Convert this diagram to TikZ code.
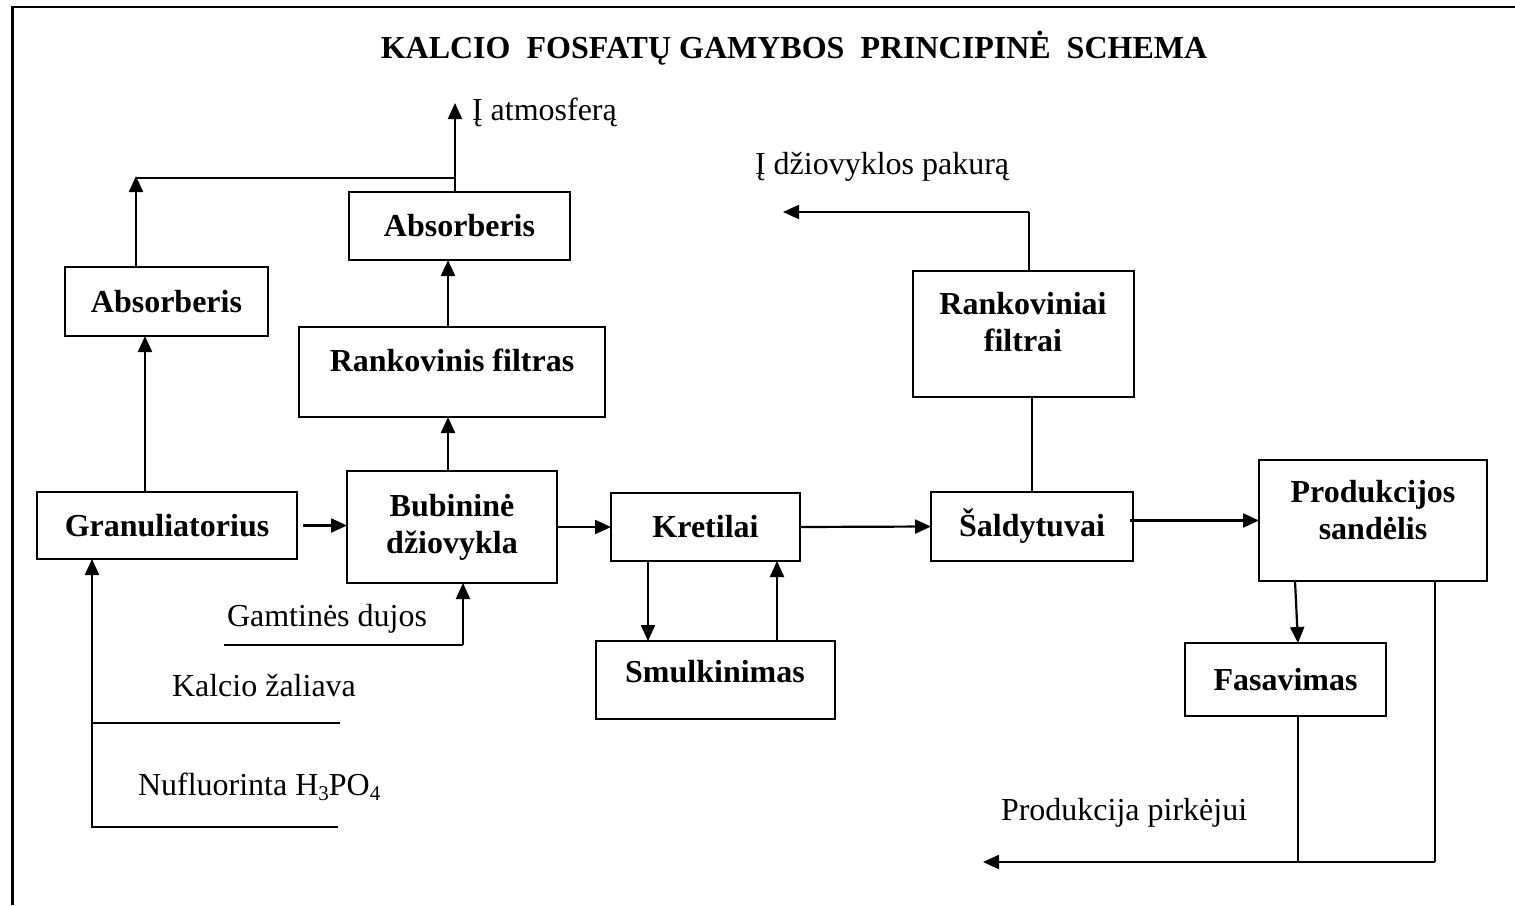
\documentclass[tikz,border=0pt]{standalone}
\usepackage{fontspec}
\setmainfont{Liberation Serif}
\usetikzlibrary{arrows.meta}

\newcommand{\chemsub}[1]{\raisebox{-2.2pt}{\fontsize{10.5pt}{10.5pt}\selectfont #1}}

\begin{document}
\begin{tikzpicture}[x=0.5pt,y=-0.5pt,
  every node/.style={inner sep=0pt, outer sep=0pt},
  txt/.style={font=\fontsize{16pt}{18.5pt}\selectfont},
  boldtxt/.style={font=\fontsize{16pt}{18.5pt}\selectfont\bfseries, align=center},
  box/.style={draw, line width=1.1pt, rectangle, boldtxt},
  flow/.style={line width=1.1pt, -{Triangle[length=8pt,width=7pt]}},
  pipe/.style={line width=1.1pt},
  thinpipe/.style={line width=0.75pt}]

\useasboundingbox (0,0) rectangle (1515,905);

% frame
\draw[line width=1.3pt] (12.5,905) -- (12.5,7) -- (1515,7);

% title
\node[boldtxt] (title) at (794,48) {KALCIO\ \ FOSFATŲ GAMYBOS\ \ PRINCIPINĖ\ \ SCHEMA};

% process blocks
\node[box, minimum width=101.5pt, minimum height=34.5pt] (leftAbs) at (166.5,301.5) {Absorberis};
\node[box, minimum width=110.5pt, minimum height=34pt] (topAbs) at (459.5,226) {Absorberis};
\node[box, minimum width=153pt, minimum height=45pt] (rfilt) at (452,372) {};
\node[boldtxt] (rfiltT) at (452,360) {Rankovinis filtras};
\node[box, minimum width=130pt, minimum height=33.5pt] (gran) at (167,525.5) {Granuliatorius};
\node[box, minimum width=105pt, minimum height=56pt] (bub) at (452,527) {Bubininė\\džiovykla};
\node[box, minimum width=94.5pt, minimum height=34pt] (kret) at (705.5,527) {Kretilai};
\node[box, minimum width=119.5pt, minimum height=39pt] (smul) at (715.5,680) {};
\node[boldtxt] (smulT) at (715,672) {Smulkinimas};
\node[box, minimum width=110.5pt, minimum height=63pt] (rfilt2) at (1023.5,334) {};
\node[boldtxt] (rfilt2T) at (1023,322) {Rankoviniai\\filtrai};
\node[box, minimum width=101pt, minimum height=34.5pt] (sald) at (1032,526.5) {Šaldytuvai};
\node[box, minimum width=114pt, minimum height=60.5pt] (prod) at (1373,520.5) {};
\node[boldtxt] (prodT) at (1373,510) {Produkcijos\\sandėlis};
\node[box, minimum width=100.5pt, minimum height=36.5pt] (fas) at (1285.5,679.5) {Fasavimas};

% free ends and bends
\coordinate (atm) at (455,103);
\coordinate (j1) at (455,178);
\coordinate (j0) at (136,176);
\coordinate (pakK) at (1029,212);
\coordinate (pak) at (783,212);
\coordinate (gd0) at (224,645);
\coordinate (gd1) at (463,645);
\coordinate (kz) at (340,723);
\coordinate (nf) at (338,827);
\coordinate (nfc) at (92,827);
\coordinate (pk1) at (1435,862);
\coordinate (pk) at (983,862);

% labels
\node[txt, anchor=west] (atmL) at (472,112) {Į atmosferą};
\node[txt, anchor=west] (pakL) at (755,167) {Į džiovyklos pakurą};
\node[txt, anchor=west] (gdL) at (227,619) {Gamtinės dujos};
\node[txt, anchor=west] (kzL) at (172,686) {Kalcio žaliava};
\node[txt, anchor=west] (nfL) at (138,787) {Nufluorinta H\chemsub{3}PO\chemsub{4}};
\node[txt, anchor=west] (pkL) at (1001,813) {Produkcija pirkėjui};

% main line
\draw[flow] ([xshift=3pt]gran.east) -- (gran.east -| bub.west);
\draw[flow] (bub.east) -- (kret.west);
\draw[flow] (kret.east) -- (sald.west);
\draw[flow] ([xshift=-1.5pt]sald.east |- prod.west) -- (prod.west);

% gas cleaning
\draw[flow] ([xshift=-11pt]gran.north) -- ([xshift=-11pt]gran.north |- leftAbs.south);
\draw[flow] ([xshift=-15.25pt]leftAbs.north) -- (j0);
\draw[thinpipe] (j0 |- j1) -- (j1);
\draw[flow] ([xshift=-2pt]bub.north) -- ([xshift=-2pt]bub.north |- rfilt.south);
\draw[flow] ([xshift=-2pt]rfilt.north) -- ([xshift=-2pt]rfilt.north |- topAbs.south);
\draw[flow] ([xshift=-2.25pt]topAbs.north) -- (atm);

% cooler dust filters
\draw[thinpipe] (sald.north) -- (sald.north |- rfilt2.south);
\draw[thinpipe] ([xshift=2.75pt]rfilt2.north) -- (pakK);
\draw[flow] (pakK) -- (pak);

% screening loop
\draw[flow] ([xshift=-28.75pt]kret.south) -- ([xshift=-28.75pt]kret.south |- smul.north);
\draw[flow] ([xshift=30.75pt]smul.north) -- ([xshift=30.75pt]smul.north |- kret.south);

% feeds
\draw[thinpipe] (gd0) -- (gd1);
\draw[flow] (gd1) -- (gd1 |- bub.south);
\draw[flow] (nf) -- (nfc) -- (nfc |- gran.south);
\draw[pipe] (kz) -- (kz -| nfc);

% dispatch
\draw[flow] ([xshift=-39pt]prod.south) -- ([xshift=6.25pt]fas.north);
\draw[pipe] ([xshift=31pt]prod.south) -- (pk1);
\draw[thinpipe] ([xshift=6.25pt]fas.south) -- ([xshift=6.25pt]fas.south |- pk1);
\draw[flow] (pk1) -- (pk);

\end{tikzpicture}
\end{document}
